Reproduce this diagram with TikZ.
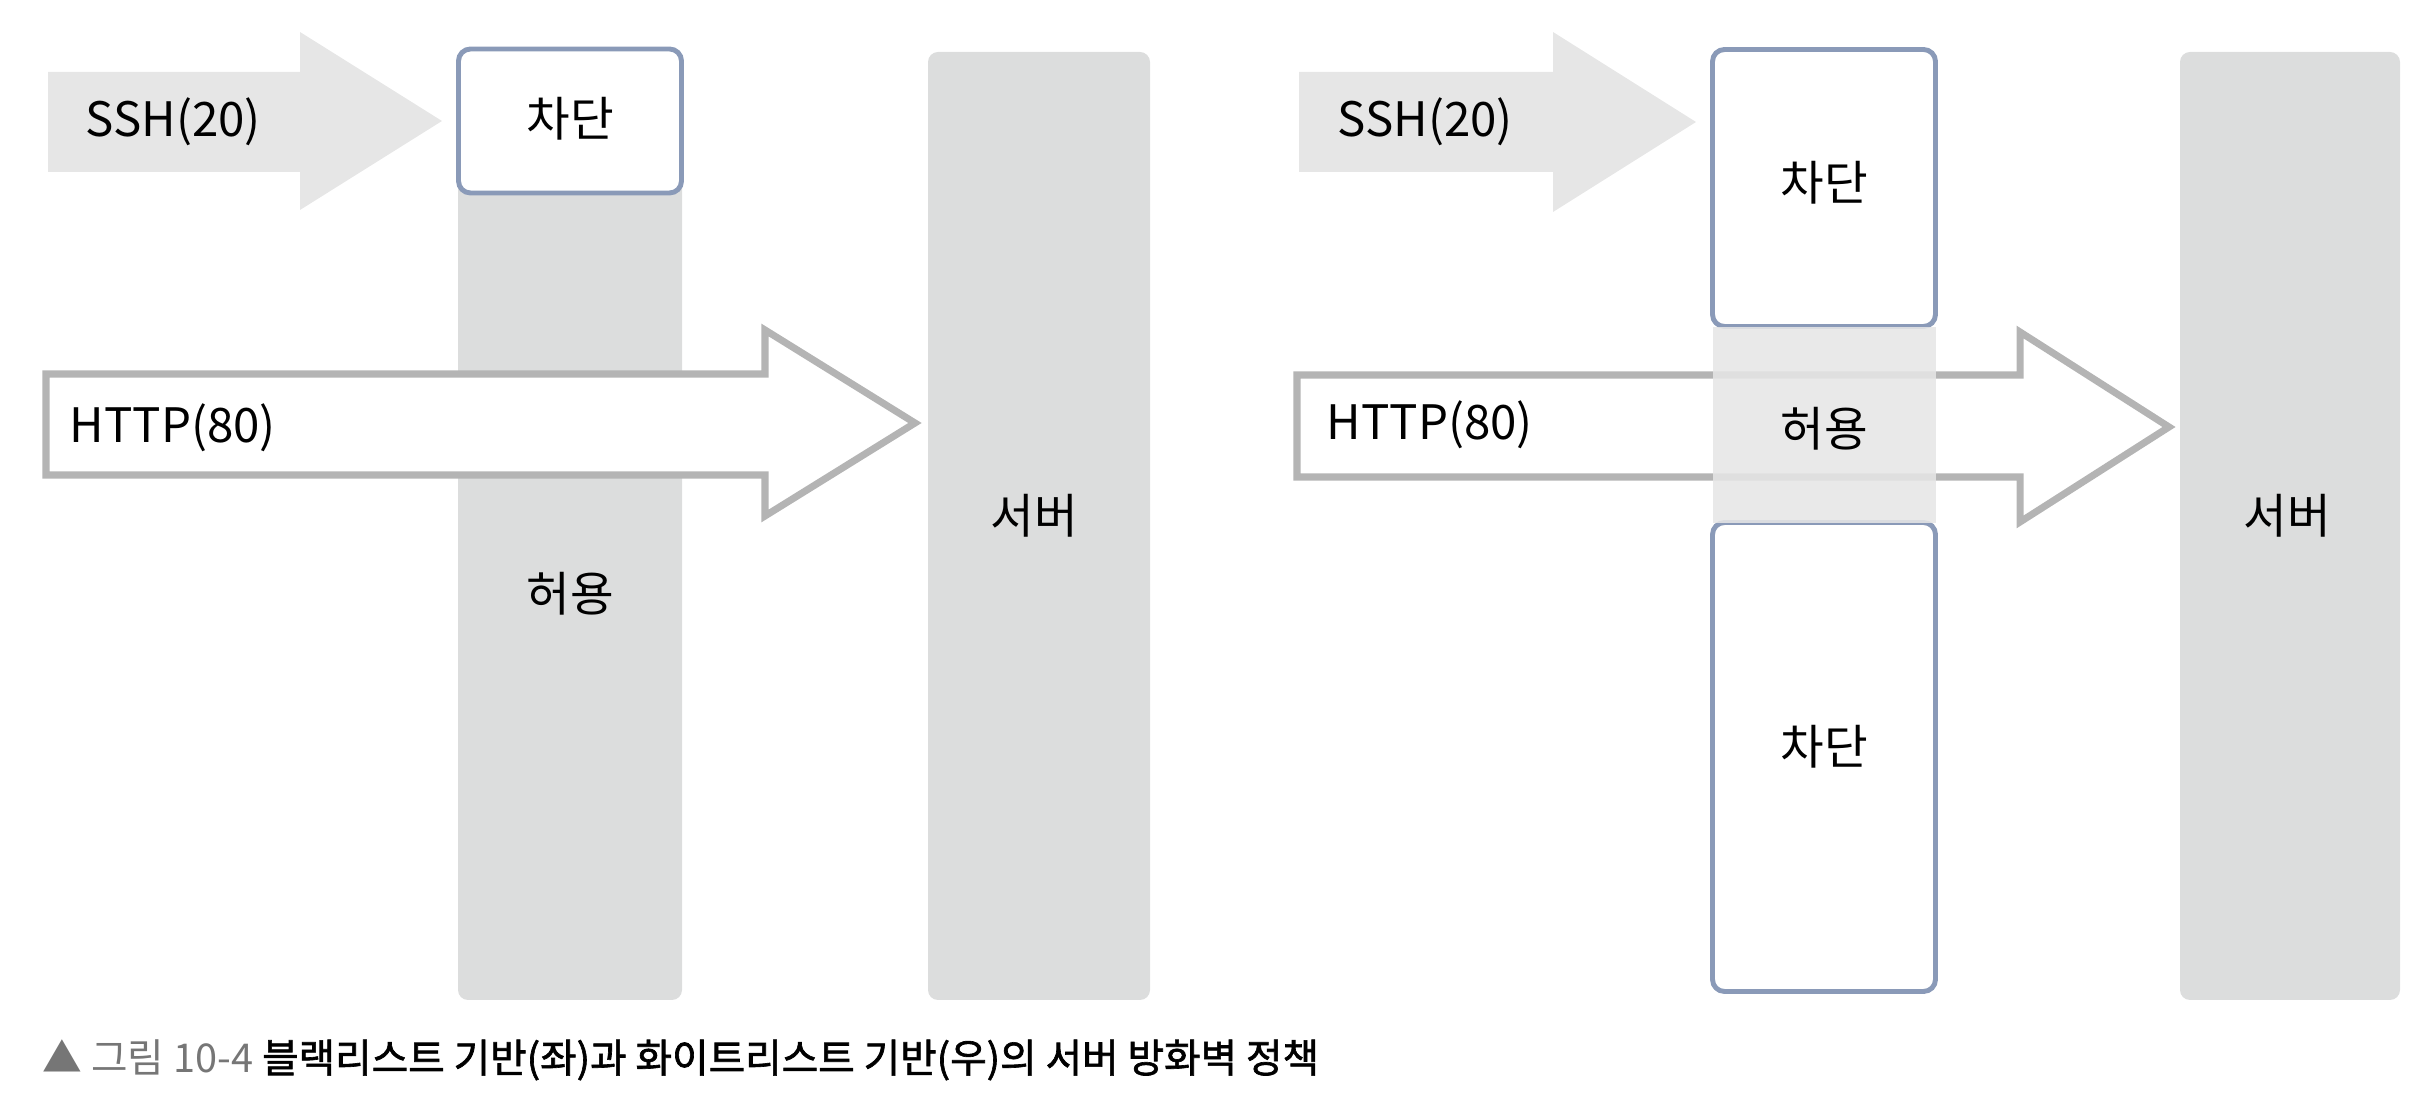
\documentclass[tikz,border=0pt]{standalone}
\usepackage{fontspec}
\setmainfont{Noto Sans CJK KR}
\newfontfamily\capbold{Noto Sans CJK KR}[FakeBold=1.6]
\usetikzlibrary{positioning}

\definecolor{wallgray}{HTML}{DCDDDD}
\definecolor{sshgray}{HTML}{E6E6E6}
\definecolor{allowgray}{HTML}{E6E6E6}
\definecolor{blockedge}{HTML}{8A9AB8}
\definecolor{httpedge}{HTML}{B4B4B4}
\definecolor{capgray}{HTML}{767676}

\tikzset{
  blockbox/.style={draw=blockedge, line width=1.4pt, fill=white, rounded corners=1.2mm,
                   minimum width=22.3mm, inner sep=0pt},
  wallbar/.style={fill=wallgray, rounded corners=1mm, inner sep=0pt},
  ssharrow/.style={fill=sshgray},
  httparrow/.style={draw=httpedge, line width=2pt, fill=white, line join=miter},
  lbl/.style={font=\fontsize{13.5}{16}\selectfont, inner sep=0pt},
}

\begin{document}
\begin{tikzpicture}[x=0.1mm, y=-0.1mm]
\useasboundingbox (0,0) rectangle (2430,1100);

% blacklist (left)
\fill[wallbar] (458,110) rectangle (682,1000);
\node[blockbox, minimum height=14.4mm] (block1) at (570,121) {};
\node[wallbar, minimum width=22.2mm, minimum height=94.8mm] (server1) at (1039,526) {};
\fill[ssharrow] (48,72) -- (300,72) -- (300,32) -- (442,121) -- (300,210) -- (300,172) -- (48,172) -- cycle;
\draw[httparrow] (46,374) -- (765,374) -- (765,330) -- (915,423) -- (765,516) -- (765,475) -- (46,475) -- cycle;
\node[lbl] (blocktext1) at (570,119) {차단};
\node[lbl] (srvtext1) at (1034,516) {서버};
\node[lbl, anchor=west] (ssh1) at (85,122) {SSH(20)};
\node[lbl, anchor=west] (http1) at (69,428) {HTTP(80)};
\node[lbl] (allow1) at (570,594) {허용};

% whitelist (right)
\node[blockbox, minimum height=27.7mm] (block2) at (1824,188) {};
\node[blockbox, minimum height=46.9mm] (block3) at (1824,757) {};
\node[wallbar, minimum width=22mm, minimum height=94.8mm] (server2) at (2290,526) {};
\fill[ssharrow] (1299,72) -- (1553,72) -- (1553,32) -- (1696,122) -- (1553,212) -- (1553,172) -- (1299,172) -- cycle;
\draw[httparrow] (1297,375) -- (2020,375) -- (2020,332) -- (2169,427) -- (2020,522) -- (2020,477) -- (1297,477) -- cycle;
\fill[allowgray, fill opacity=0.88] (1713,327) rectangle (1936,523);
\node[lbl] (blocktext2) at (1824,183) {차단};
\node[lbl] (blocktext3) at (1824,747) {차단};
\node[lbl] (allow2) at (1824,429) {허용};
\node[lbl] (srvtext2) at (2287,516) {서버};
\node[lbl, anchor=west] (ssh2) at (1337,122) {SSH(20)};
\node[lbl, anchor=west] (http2) at (1326,425) {HTTP(80)};

% caption
\node[anchor=west, inner sep=0pt, font=\fontsize{11.3}{13}\selectfont] (caption) at (42,1060)
  {{\color{capgray}▲ 그림 10-4} {\capbold 블랙리스트 기반(좌)과 화이트리스트 기반(우)의 서버 방화벽 정책}};
\end{tikzpicture}
\end{document}
